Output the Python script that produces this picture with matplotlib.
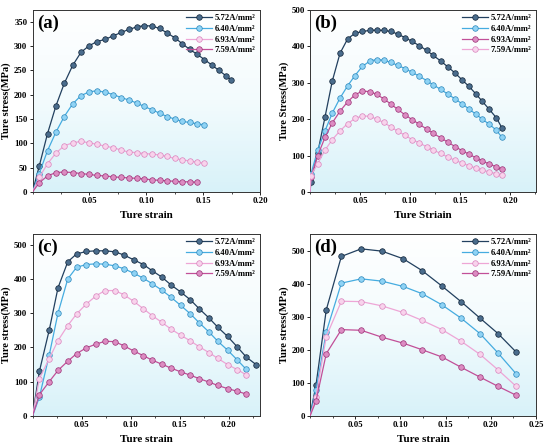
import numpy as np
import matplotlib
matplotlib.use("Agg")
import matplotlib.pyplot as plt
from matplotlib.ticker import MultipleLocator
from matplotlib.colors import LinearSegmentedColormap

plt.rcParams['font.family'] = ['Liberation Serif', 'DejaVu Serif']
plt.rcParams['font.weight'] = 'bold'
plt.rcParams['axes.labelweight'] = 'bold'

labels = ["5.72A/mm²", "6.40A/mm²", "6.93A/mm²", "7.59A/mm²"]

# ---- panel (a) ----
a_x = [0.0059, 0.0132, 0.0206, 0.0279, 0.0353, 0.0426, 0.05, 0.0568, 0.0641, 0.0712,
       0.078, 0.0847, 0.0915, 0.0979, 0.105, 0.1118, 0.1182, 0.125, 0.1315, 0.1382,
       0.1447, 0.1512, 0.1576, 0.1638, 0.17, 0.1744]
a_572 = [53, 120, 177, 223, 260, 287, 301, 309, 314, 321, 328, 334, 339, 342, 341, 336,
         327, 317, 305, 293, 283, 272, 261, 250, 239, 231]
a_640 = [38, 85, 123, 155, 181, 198, 206, 208, 205, 200, 194, 189, 183, 176, 169, 162,
         155, 150, 145, 143, 140, 138]
a_693 = [30, 58, 80, 95, 101, 104, 101, 98, 94, 91, 86, 82, 81, 79, 78, 76, 73, 69, 66,
         64, 61, 59]
a_759 = [19, 33, 40, 41, 40, 38, 36, 34, 33, 31, 30, 29, 28, 27, 25, 24, 23, 22, 21, 21, 20]

# ---- panel (b) ----
b_x = [0.001, 0.0077, 0.015, 0.0223, 0.030, 0.0377, 0.045, 0.0523, 0.060, 0.0667,
       0.0737, 0.0807, 0.0877, 0.095, 0.102, 0.1093, 0.1167, 0.1233, 0.1307, 0.1377,
       0.145, 0.1517, 0.159, 0.1657, 0.1723, 0.1793, 0.1863, 0.192]
b_572 = [28, 108, 206, 305, 381, 421, 436, 441, 444, 445, 444, 441, 434, 424, 414, 402,
         389, 375, 360, 344, 327, 309, 290, 270, 249, 227, 204, 176]
b_640 = [50, 115, 168, 217, 258, 292, 320, 345, 360, 364, 362, 356, 348, 339, 329, 318,
         306, 294, 282, 269, 256, 243, 228, 214, 200, 186, 170, 150]
b_693 = [41, 100, 150, 190, 222, 248, 267, 277, 276, 268, 256, 242, 227, 212, 199, 186,
         173, 161, 149, 137, 125, 114, 104, 94, 85, 77, 69, 62]
b_759 = [45, 78, 115, 144, 168, 188, 202, 209, 208, 200, 191, 179, 167, 156, 144, 135,
         124, 115, 106, 96, 87, 80, 72, 66, 60, 55, 50, 46]

# ---- panel (c) ----
c_x = [0.007, 0.017, 0.026, 0.036, 0.045, 0.055, 0.065, 0.074, 0.084, 0.093, 0.103,
       0.113, 0.122, 0.132, 0.141, 0.151, 0.161, 0.170, 0.180, 0.189, 0.199, 0.209,
       0.218, 0.228]
c_572 = [130, 250, 374, 450, 473, 480, 482, 482, 479, 470, 456, 442, 424, 405, 383, 362,
         339, 313, 286, 259, 232, 201, 172, 150]
c_640 = [55, 177, 300, 400, 434, 442, 444, 443, 438, 430, 417, 402, 386, 367, 347, 323,
         298, 272, 245, 218, 192, 163, 136]
c_693 = [109, 167, 220, 264, 298, 327, 351, 366, 366, 354, 335, 313, 293, 273, 254, 236,
         219, 202, 185, 168, 150, 135, 120]
c_759 = [62, 100, 133, 160, 182, 199, 210, 218, 217, 205, 190, 176, 163, 151, 140, 129,
         119, 109, 99, 89, 80, 72, 64]

# ---- panel (d) ----
d_x = [0.0066, 0.018, 0.0347, 0.0566, 0.0796, 0.103, 0.124, 0.146, 0.167, 0.188, 0.208, 0.228]
d_572 = [93, 322, 484, 507, 500, 477, 441, 394, 347, 297, 250, 194]
d_640 = [78, 255, 403, 416, 409, 393, 371, 337, 297, 250, 191, 128]
d_693 = [58, 241, 348, 347, 334, 314, 290, 262, 227, 187, 140, 90]
d_759 = [45, 189, 262, 260, 239, 221, 201, 179, 148, 118, 90, 63]

NAVY = ("#22405f", "#4a6c8c", "#0f2236")
BLUE = ("#45ace0", "#8fd3f5", "#2a86bb")
LPINK = ("#eea6d6", "#f8d3ec", "#d983bd")
MAG = ("#c24f98", "#dc8cc2", "#9a2f74")

panels = [
    dict(letter="(a)", x=a_x, ys=[a_572, a_640, a_693, a_759],
         cols=[NAVY, BLUE, LPINK, MAG], xlim=(0, 0.20), xt=[0.05, 0.10, 0.15, 0.20],
         ylim=(0, 374), yt=np.arange(0, 351, 50), xl="Ture strain", yl="Ture stress(MPa)",
         pos=[32.5/550, 1-192/448, 227.5/550, 182/448]),
    dict(letter="(b)", x=b_x, ys=[b_572, b_640, b_693, b_759],
         cols=[NAVY, BLUE, MAG, LPINK], xlim=(0, 0.226), xt=[0.05, 0.10, 0.15, 0.20],
         ylim=(0, 500), yt=np.arange(0, 501, 100), xl="Ture Striain", yl="Ture Stress(MPa)",
         pos=[310/550, 1-192/448, 226/550, 182/448]),
    dict(letter="(c)", x=c_x, ys=[c_572, c_640, c_693, c_759],
         cols=[NAVY, BLUE, LPINK, MAG], xlim=(0, 0.232), xt=[0.05, 0.10, 0.15, 0.20],
         ylim=(0, 531), yt=np.arange(0, 501, 100), xl="Ture strain", yl="Ture stress(MPa)",
         pos=[32.5/550, 1-416/448, 227.5/550, 182/448]),
    dict(letter="(d)", x=d_x, ys=[d_572, d_640, d_693, d_759],
         cols=[NAVY, BLUE, LPINK, MAG], xlim=(0, 0.25), xt=[0.05, 0.10, 0.15, 0.20, 0.25],
         ylim=(0, 552), yt=np.arange(0, 501, 100), xl="Ture strain", yl="Ture stress(MPa)",
         pos=[310/550, 1-416/448, 226/550, 182/448]),
]

fig = plt.figure(figsize=(5.5, 4.48), dpi=100)
grad = np.linspace(0, 1, 256).reshape(-1, 1)
bgcmap = LinearSegmentedColormap.from_list("bg", ["#ffffff", "#f3fbfd", "#d8f2f9"])

for p in panels:
    ax = fig.add_axes(p["pos"])
    ax.imshow(grad, cmap=bgcmap, extent=[0, 1, 0, 1], transform=ax.transAxes,
              aspect="auto", zorder=0, interpolation="bicubic")
    handles = []
    for ys, (c, fc, ec), lab in zip(p["ys"], p["cols"], labels):
        xs = [0.0] + list(p["x"][:len(ys)])
        yv = [0.0] + list(ys)
        ln, = ax.plot(xs, yv, color=c, lw=0.9, marker="o", markersize=4.0,
                      markerfacecolor=fc, markeredgecolor=ec, markeredgewidth=0.5,
                      markevery=slice(1, None), zorder=3, label=lab)
        handles.append(ln)
    ax.set_xlim(*p["xlim"])
    ax.set_ylim(*p["ylim"])
    ax.set_xticks(p["xt"])
    ax.set_xticklabels([f"{v:.2f}" for v in p["xt"]])
    ax.xaxis.set_minor_locator(MultipleLocator(0.025))
    ax.set_yticks(p["yt"])
    ax.tick_params(axis="both", which="major", direction="out", length=2.2, width=0.6,
                   labelsize=6.3, pad=1.5)
    ax.tick_params(axis="x", which="minor", direction="out", length=1.3, width=0.5)
    for s in ax.spines.values():
        s.set_linewidth(0.7)
        s.set_color("#333333")
    ax.set_xlabel(p["xl"], fontsize=8, labelpad=4)
    ax.set_ylabel(p["yl"], fontsize=7.6, labelpad=2)
    ax.text(0.02, 0.975, p["letter"], transform=ax.transAxes, fontsize=13.5,
            fontweight="bold", va="top", ha="left")
    ax.legend(handles=handles, loc="upper right", frameon=False, fontsize=6.2,
              handlelength=3.0, handletextpad=0.4, labelspacing=0.3,
              borderaxespad=0.1, markerscale=1.0)

fig.savefig("out.png", dpi=100)
